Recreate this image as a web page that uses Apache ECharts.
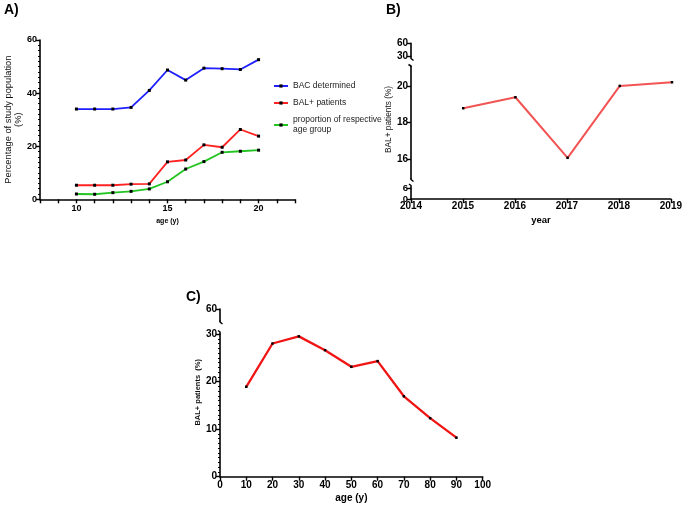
<!DOCTYPE html>
<html>
<head>
<meta charset="utf-8">
<script src="https://cdn.jsdelivr.net/npm/echarts@6/dist/echarts.min.js"></script>
<style>
html,body{margin:0;padding:0;background:#fff;}
#chart{width:685px;height:506px;}
</style>
</head>
<body>
<div id="chart"></div>
<script>
// ---- Panel A data ----
const agesA = [10, 11, 12, 13, 14, 15, 16, 17, 18, 19, 20];
const bacDetermined = [34.0, 34.0, 34.0, 34.6, 41.0, 48.7, 44.9, 49.4, 49.2, 48.9, 52.6];
const balPlusA = [5.3, 5.3, 5.3, 5.7, 5.8, 14.1, 14.8, 20.5, 19.6, 26.3, 23.8];
const proportionAgeGroup = [2.0, 1.9, 2.5, 3.0, 3.9, 6.6, 11.4, 14.2, 17.7, 18.1, 18.5];
const seriesNamesA = ['BAC determined', 'BAL+ patients', 'proportion of respective\nage group'];
const xLabelsA = [10, 15, 20];
// ---- Panel B data ----
const yearsB = [2015, 2016, 2017, 2018, 2019];
const balPlusB = [18.78, 19.38, 16.07, 20.0, 20.2];
const yLabelsBmid = [16, 18, 20];
// ---- Panel C data ----
const agesC = [10, 20, 30, 40, 50, 60, 70, 80, 90];
const balPlusC = [18.9, 28.0, 29.5, 26.6, 23.1, 24.3, 16.9, 12.3, 8.2];

const FONT = '"Liberation Sans", Arial, Helvetica, sans-serif';
const pairs = (xs, ys) => xs.map((x, i) => [x, ys[i]]);

function axisBase(fs) {
  return {
    axisLine: { show: true, onZero: false, lineStyle: { color: '#000', width: 1.6 } },
    axisTick: { show: true, length: 4, lineStyle: { color: '#000', width: 1.4 } },
    axisLabel: { color: '#000', fontWeight: 'bold', fontSize: fs, fontFamily: FONT, margin: 3, hideOverlap: false, showMinLabel: true, showMaxLabel: true, formatter: (v) => String(v) },
    splitLine: { show: false }
  };
}
function merge(a, b) {
  const out = Object.assign({}, a);
  for (const k in b) {
    if (b[k] && typeof b[k] === 'object' && !Array.isArray(b[k]) && a[k] && typeof a[k] === 'object') out[k] = merge(a[k], b[k]);
    else out[k] = b[k];
  }
  return out;
}

const chart = echarts.init(document.getElementById('chart'), null, { renderer: 'canvas' });

const grids = [
  { left: 40, top: 40, width: 255, height: 159.3 },      // 0 A
  { left: 411, top: 43.3, width: 261, height: 12.7 },    // 1 B top
  { left: 411, top: 66.7, width: 261, height: 111.6 },   // 2 B mid
  { left: 411, top: 188.3, width: 261, height: 10.7 },   // 3 B bottom
  { left: 220, top: 309, width: 262.7, height: 12 },     // 4 C top
  { left: 220, top: 334, width: 262.7, height: 142.7 }   // 5 C lower
];

const hiddenX = (gi, min, max) => ({ type: 'value', gridIndex: gi, min, max, show: false });

const xAxes = [
  merge(axisBase(9), { type: 'value', gridIndex: 0, min: 8, max: 22, interval: 1,
    axisLabel: { customValues: xLabelsA, margin: 5 },
    name: 'age (y)', nameLocation: 'middle', nameGap: 18,
    nameTextStyle: { fontSize: 7, fontWeight: 'bold', fontFamily: FONT, color: '#000' } }),
  hiddenX(1, 2014, 2019),
  hiddenX(2, 2014, 2019),
  merge(axisBase(10), { type: 'value', gridIndex: 3, min: 2014, max: 2019, interval: 1,
    axisLabel: { margin: 2 },
    name: 'year', nameLocation: 'middle', nameGap: 16,
    nameTextStyle: { fontSize: 9.5, fontWeight: 'bold', fontFamily: FONT, color: '#000' } }),
  hiddenX(4, 0, 100),
  merge(axisBase(10), { type: 'value', gridIndex: 5, min: 0, max: 100, interval: 10,
    axisLabel: { margin: 4 },
    name: 'age (y)', nameLocation: 'middle', nameGap: 17,
    nameTextStyle: { fontSize: 10, fontWeight: 'bold', fontFamily: FONT, color: '#000' } })
];

const yAxes = [
  merge(axisBase(9), { type: 'value', gridIndex: 0, min: 0, max: 60, interval: 20,
    minorTick: { show: true, splitNumber: 10, length: 2, lineStyle: { color: '#000', width: 1 } },
    name: 'Percentage of study population\n(%)', nameLocation: 'middle', nameGap: 16, nameRotate: 90,
    nameTextStyle: { fontSize: 9.3, fontFamily: FONT, color: '#111', lineHeight: 10 } }),
  merge(axisBase(10), { type: 'value', gridIndex: 1, min: 30, max: 60, interval: 30 }),
  merge(axisBase(10), { type: 'value', gridIndex: 2, min: 14.95, max: 21.05,
    axisTick: { customValues: yLabelsBmid }, axisLabel: { customValues: yLabelsBmid },
    name: 'BAL+ patients (%)', nameLocation: 'middle', nameGap: 14, nameRotate: 90,
    nameTextStyle: { fontSize: 8.3, fontFamily: FONT, color: '#111', padding: [0, 0, 0, 6] } }),
  merge(axisBase(9.5), { type: 'value', gridIndex: 3, min: 0, max: 6, interval: 6 }),
  merge(axisBase(10), { type: 'value', gridIndex: 4, min: 50, max: 60,
    axisTick: { customValues: [60] }, axisLabel: { customValues: [60] } }),
  merge(axisBase(10), { type: 'value', gridIndex: 5, min: 0, max: 30, interval: 10,
    minorTick: { show: true, splitNumber: 10, length: 2, lineStyle: { color: '#000', width: 1 } },
    name: 'BAL+ patients  (%)', nameLocation: 'middle', nameGap: 17, nameRotate: 90,
    nameTextStyle: { fontSize: 7.5, fontWeight: 'bold', fontFamily: FONT, color: '#111', padding: [0, 0, 0, 26] } })
];

function lineSeries(name, data, color, gi, width, size) {
  return {
    type: 'line', name, data, xAxisIndex: gi, yAxisIndex: gi,
    symbol: 'rect', symbolSize: size, showSymbol: true,
    lineStyle: { color, width },
    itemStyle: { color: '#000' },
    emphasis: { disabled: true }, animation: false, z: 3
  };
}

const series = [
  lineSeries(seriesNamesA[0], pairs(agesA, bacDetermined), '#1f1fff', 0, 1.8, 3),
  lineSeries(seriesNamesA[1], pairs(agesA, balPlusA), '#ff2222', 0, 1.8, 3),
  lineSeries(seriesNamesA[2], pairs(agesA, proportionAgeGroup), '#22c422', 0, 1.8, 3),
  lineSeries('BAL+ patients B', pairs(yearsB, balPlusB), '#f25454', 2, 2, 2.5),
  lineSeries('BAL+ patients C', pairs(agesC, balPlusC), '#f01414', 5, 2.3, 2.5)
];

const hook = (pts) => ({ type: 'polyline', shape: { points: pts }, style: { stroke: '#000', lineWidth: 1.5, fill: null }, z: 10 });
const label = (txt, x, y) => ({ type: 'text', left: x, top: y, style: { text: txt, font: 'bold 14px ' + FONT, fill: '#000' } });

chart.setOption({
  backgroundColor: '#fff',
  animation: false,
  grid: grids,
  xAxis: xAxes,
  yAxis: yAxes,
  legend: {
    data: seriesNamesA, orient: 'vertical', left: 268, top: 76, itemGap: 7,
    itemWidth: 14, itemHeight: 4,
    textStyle: { fontSize: 8.5, fontFamily: FONT, color: '#222', lineHeight: 10 },
    selectedMode: false
  },
  series,
  graphic: [
    label('A)', 4, 3),
    label('B)', 386, 3),
    label('C)', 186, 290),
    hook([[411, 56], [411, 58.5], [413.5, 60.5]]),
    hook([[408.5, 64.5], [411, 66], [411, 67]]),
    hook([[411, 178], [411, 179.5], [413.5, 181.5]]),
    hook([[409, 184], [411, 185.5], [411, 188.5]]),
    hook([[220, 320.5], [220, 322], [222.5, 324]]),
    hook([[218, 330.5], [220, 332], [220, 334.5]])
  ]
});
</script>
</body>
</html>
